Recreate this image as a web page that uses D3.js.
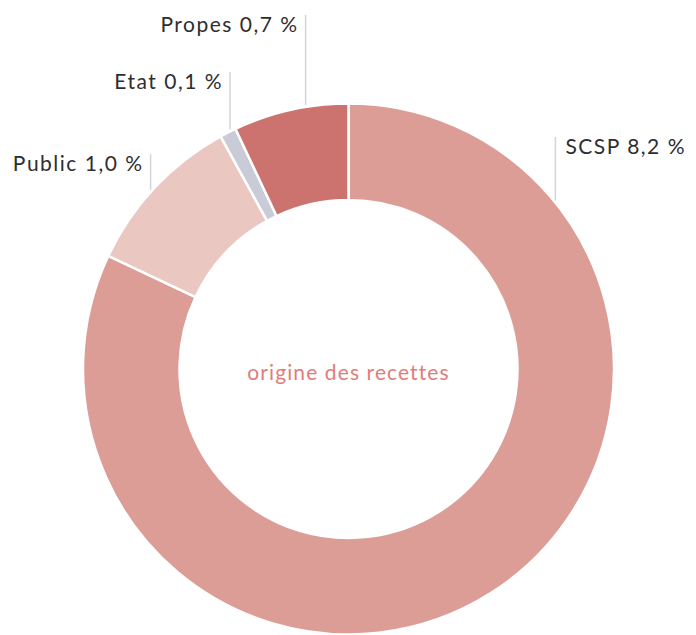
<!DOCTYPE html>
<html>
<head>
<meta charset="utf-8">
<script src="https://cdn.jsdelivr.net/npm/d3@7"></script>
<style>
  body { margin: 0; background: #fff; }
</style>
</head>
<body>
<div id="container"></div>
<script>
/* DATA */
const categories = ["SCSP", "Public", "Etat", "Propes"];
const values = [8.2, 1.0, 0.1, 0.7];
const valueLabels = ["8,2 %", "1,0 %", "0,1 %", "0,7 %"];
const colors = ["#dc9d97", "#eac7c1", "#c9cbd7", "#cc736f"];
const centerLabel = "origine des recettes";

/* LAYOUT */
const width = 696,
  height = 635,
  cx = 348.5,
  cy = 369,
  outerR = 265.5,
  innerR = 169;

// angle (deg) where each leader line touches the ring, and its top y
const leaderAngle = [51.2, 311.8, 333.5, 350.7];
const leaderTop = [137, 154, 72, 15];

const svg = d3.select("#container")
  .append("svg")
  .attr("width", width)
  .attr("height", height)
  .style("font-family", "Lato, 'Open Sans', sans-serif");

const pie = d3.pie().sort(null).value(d => d.value);
const arc = d3.arc().innerRadius(innerR).outerRadius(outerR);

const data = categories.map((c, i) => ({ name: c, value: values[i], label: valueLabels[i], color: colors[i], i }));

const g = svg.append("g").attr("transform", `translate(${cx},${cy})`);

g.selectAll("path")
  .data(pie(data))
  .join("path")
  .attr("d", arc)
  .attr("fill", d => d.data.color)
  .attr("stroke", "#fff")
  .attr("stroke-width", 2.5);

// leader lines + labels
data.forEach((d, i) => {
  const a = leaderAngle[i] * Math.PI / 180;
  const x = outerR * Math.sin(a);
  const yEnd = -outerR * Math.cos(a) - 2;
  const yTop = leaderTop[i] - cy;
  g.append("line")
    .attr("x1", x).attr("x2", x)
    .attr("y1", yTop).attr("y2", yEnd)
    .attr("stroke", "#d3d3dc")
    .attr("stroke-width", 1.5);
  const right = x > 0;
  g.append("text")
    .attr("x", right ? x + 10 : x - 7)
    .attr("y", yTop + 17)
    .attr("text-anchor", right ? "start" : "end")
    .attr("fill", "#2e2e2e")
    .attr("font-size", "21px")
    .attr("letter-spacing", "1.5px")
    .text(`${d.name} ${d.label}`);
});

g.append("text")
  .attr("x", 0)
  .attr("y", 11)
  .attr("text-anchor", "middle")
  .attr("fill", "#e07d79")
  .attr("font-size", "21px")
  .attr("letter-spacing", "1.1px")
  .text(centerLabel);
</script>
</body>
</html>
